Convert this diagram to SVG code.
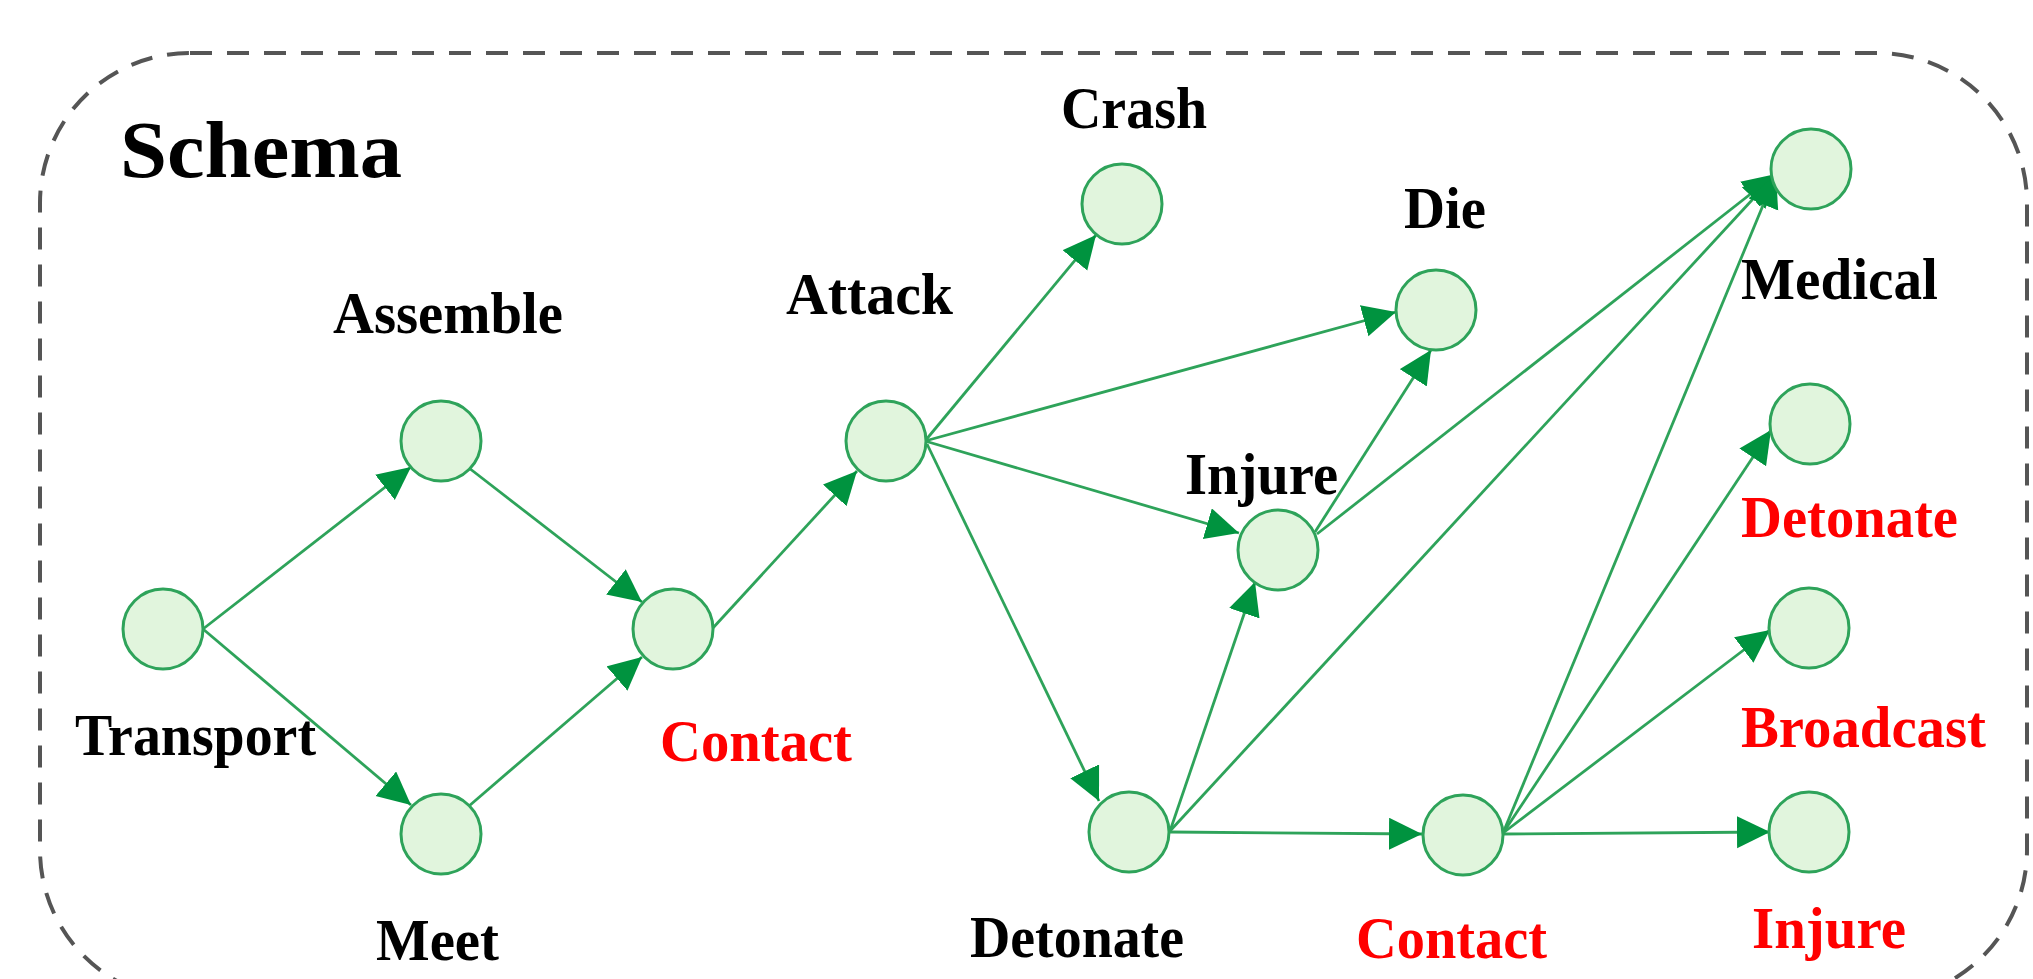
<svg xmlns="http://www.w3.org/2000/svg" width="2033" height="979" viewBox="0 0 2033 979">
  <style>
    .frame { fill: none; stroke: #555555; stroke-width: 4; stroke-dasharray: 22 15; }
    .node { fill: #e1f5dd; stroke: #2ea35a; stroke-width: 3; }
    .edge { fill: none; stroke: #2ea35a; stroke-width: 2.8; marker-end: url(#arrow); }
    .lbl { font-family: "Liberation Serif", "Times New Roman", serif; font-weight: bold; font-size: 60px; fill: #000000; }
    .red { fill: #ff0000; }
    .title { font-family: "Liberation Serif", "Times New Roman", serif; font-weight: bold; font-size: 80px; fill: #000000; }
  </style>
  <defs>
    <marker id="arrow" markerUnits="userSpaceOnUse" markerWidth="36" markerHeight="36" refX="33" refY="16" orient="auto">
      <path d="M0,0 L33,16 L0,32 Z" fill="#00933f"/>
    </marker>
  </defs>

  <rect width="2033" height="979" fill="#ffffff"/>

  <!-- dashed schema frame -->
  <rect class="frame" x="40" y="53" width="1987" height="947" rx="150" ry="150"/>
  <text class="title" x="120" y="177" textLength="282" lengthAdjust="spacingAndGlyphs">Schema</text>

  <!-- connectors -->
  <g id="edges">
    <line class="edge" x1="203" y1="629" x2="411" y2="467"/>
    <line class="edge" x1="203" y1="629" x2="411" y2="805"/>
    <line class="edge" x1="469" y1="468" x2="642" y2="602"/>
    <line class="edge" x1="469" y1="806" x2="642" y2="657"/>
    <line class="edge" x1="712" y1="629" x2="857" y2="471"/>
    <line class="edge" x1="925" y1="441" x2="1096" y2="235"/>
    <line class="edge" x1="925" y1="441" x2="1396" y2="312"/>
    <line class="edge" x1="925" y1="441" x2="1239" y2="533"/>
    <line class="edge" x1="927" y1="444" x2="1099" y2="801"/>
    <line class="edge" x1="1315" y1="532" x2="1431" y2="350"/>
    <line class="edge" x1="1317" y1="534" x2="1776" y2="174"/>
    <line class="edge" x1="1170" y1="831" x2="1255" y2="582"/>
    <line class="edge" x1="1170" y1="831" x2="1776" y2="174"/>
    <line class="edge" x1="1170" y1="832" x2="1422" y2="834"/>
    <line class="edge" x1="1503" y1="833" x2="1776" y2="174"/>
    <line class="edge" x1="1503" y1="833" x2="1771" y2="430"/>
    <line class="edge" x1="1503" y1="833" x2="1770" y2="630"/>
    <line class="edge" x1="1503" y1="834" x2="1770" y2="832"/>
  </g>

  <!-- event nodes -->
  <g id="transport">
    <ellipse class="node" cx="163" cy="629" rx="40" ry="40"/>
    <text class="lbl" x="75" y="755" textLength="241" lengthAdjust="spacingAndGlyphs">Transport</text>
  </g>
  <g id="assemble">
    <ellipse class="node" cx="441" cy="441" rx="40" ry="40"/>
    <text class="lbl" x="333" y="333" textLength="230" lengthAdjust="spacingAndGlyphs">Assemble</text>
  </g>
  <g id="meet">
    <ellipse class="node" cx="441" cy="834" rx="40" ry="40"/>
    <text class="lbl" x="376" y="960" textLength="123" lengthAdjust="spacingAndGlyphs">Meet</text>
  </g>
  <g id="contact-1">
    <ellipse class="node" cx="673" cy="629" rx="40" ry="40"/>
    <text class="lbl red" x="660" y="761" textLength="192" lengthAdjust="spacingAndGlyphs">Contact</text>
  </g>
  <g id="attack">
    <ellipse class="node" cx="886" cy="441" rx="40" ry="40"/>
    <text class="lbl" x="786" y="314" textLength="167" lengthAdjust="spacingAndGlyphs">Attack</text>
  </g>
  <g id="crash">
    <ellipse class="node" cx="1122" cy="204" rx="40" ry="40"/>
    <text class="lbl" x="1061" y="128" textLength="146" lengthAdjust="spacingAndGlyphs">Crash</text>
  </g>
  <g id="die">
    <ellipse class="node" cx="1436" cy="310" rx="40" ry="40"/>
    <text class="lbl" x="1404" y="228" textLength="82" lengthAdjust="spacingAndGlyphs">Die</text>
  </g>
  <g id="injure-1">
    <ellipse class="node" cx="1278" cy="550" rx="40" ry="40"/>
    <text class="lbl" x="1185" y="494" textLength="153" lengthAdjust="spacingAndGlyphs">Injure</text>
  </g>
  <g id="detonate-1">
    <ellipse class="node" cx="1129" cy="832" rx="40" ry="40"/>
    <text class="lbl" x="970" y="957" textLength="214" lengthAdjust="spacingAndGlyphs">Detonate</text>
  </g>
  <g id="contact-2">
    <ellipse class="node" cx="1463" cy="835" rx="40" ry="40"/>
    <text class="lbl red" x="1356" y="958" textLength="191" lengthAdjust="spacingAndGlyphs">Contact</text>
  </g>
  <g id="medical">
    <ellipse class="node" cx="1811" cy="169" rx="40" ry="40"/>
    <text class="lbl" x="1741" y="299" textLength="197" lengthAdjust="spacingAndGlyphs">Medical</text>
  </g>
  <g id="detonate-2">
    <ellipse class="node" cx="1810" cy="424" rx="40" ry="40"/>
    <text class="lbl red" x="1741" y="537" textLength="217" lengthAdjust="spacingAndGlyphs">Detonate</text>
  </g>
  <g id="broadcast">
    <ellipse class="node" cx="1809" cy="628" rx="40" ry="40"/>
    <text class="lbl red" x="1741" y="747" textLength="245" lengthAdjust="spacingAndGlyphs">Broadcast</text>
  </g>
  <g id="injure-2">
    <ellipse class="node" cx="1809" cy="832" rx="40" ry="40"/>
    <text class="lbl red" x="1752" y="948" textLength="154" lengthAdjust="spacingAndGlyphs">Injure</text>
  </g>
</svg>
